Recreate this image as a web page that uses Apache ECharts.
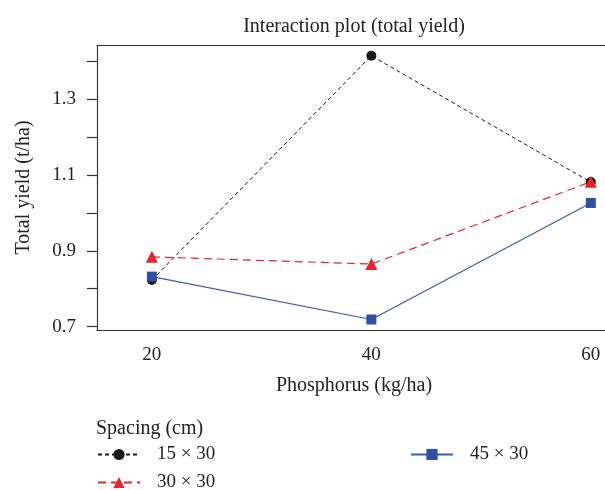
<!DOCTYPE html>
<html>
<head>
<meta charset="utf-8">
<script src="https://cdn.jsdelivr.net/npm/echarts@6/dist/echarts.min.js"></script>
<style>
  html, body { margin: 0; padding: 0; background: #fff; }
  #report { width: 605px; height: 490px; }
</style>
</head>
<body>
<div id="report"></div>
<script>
// data
var phosphorus = [20, 40, 60];
var seriesNames = ['15 × 30', '30 × 30', '45 × 30'];
var yield15 = [0.823, 1.414, 1.081];
var yield30 = [0.884, 0.865, 1.082];
var yield45 = [0.832, 0.719, 1.026];
var yTicks = [0.7, 0.8, 0.9, 1.0, 1.1, 1.2, 1.3, 1.4];
var yLabels = [0.7, 0.9, 1.1, 1.3];

var font = 'Liberation Serif';
var axisColor = '#333';
var textColor = '#222';

function pairs(vals) {
  return phosphorus.map(function (p, i) { return [p, vals[i]]; });
}

function legendAt(left, top, name) {
  return {
    left: left, top: top, padding: 0,
    itemWidth: 42, itemHeight: 14,
    data: [name],
    textStyle: { fontFamily: font, fontSize: 19, color: textColor, padding: [0, 0, 0, 12] }
  };
}

var myChart = echarts.init(document.getElementById('report'));

option = {
  animation: false,
  textStyle: { fontFamily: font },
  grid: { left: 97, top: 45, right: 0, bottom: 160 },
  graphic: [
    {
      type: 'text', x: 354, y: 17,
      style: { text: 'Interaction plot (total yield)', fontFamily: font, fontSize: 20, fill: textColor, align: 'center' }
    },
    {
      type: 'text', x: 354, y: 376,
      style: { text: 'Phosphorus (kg/ha)', fontFamily: font, fontSize: 20, fill: textColor, align: 'center' }
    },
    {
      type: 'text', x: 96, y: 419,
      style: { text: 'Spacing (cm)', fontFamily: font, fontSize: 20, fill: textColor }
    }
  ],
  legend: [
    legendAt(97, 445, seriesNames[0]),
    legendAt(97, 473, seriesNames[1]),
    legendAt(410, 445, seriesNames[2])
  ],
  xAxis: [
    {
      type: 'value',
      min: 15,
      max: 61.29,
      splitLine: { show: false },
      axisLine: { lineStyle: { color: axisColor, width: 1.2 } },
      axisTick: { show: false },
      axisLabel: {
        customValues: phosphorus,
        margin: 16,
        fontFamily: font, fontSize: 19, color: textColor
      }
    },
    {
      // top frame line only
      type: 'value',
      position: 'top',
      min: 15,
      max: 61.29,
      splitLine: { show: false },
      axisLine: { show: true, lineStyle: { color: axisColor, width: 1.2 } },
      axisTick: { show: false },
      axisLabel: { show: false }
    }
  ],
  yAxis: {
    type: 'value',
    min: 0.6913,
    max: 1.4422,
    name: 'Total yield (t/ha)',
    nameLocation: 'middle',
    nameGap: 63,
    nameTextStyle: { fontFamily: font, fontSize: 20, color: textColor },
    splitLine: { show: false },
    axisLine: { show: true, lineStyle: { color: axisColor, width: 1.2 } },
    axisTick: {
      show: true, length: 10, customValues: yTicks,
      lineStyle: { color: axisColor, width: 1.2 }
    },
    axisLabel: {
      customValues: yLabels,
      margin: 21,
      fontFamily: font, fontSize: 19, color: textColor,
      formatter: function (v) { return v.toFixed(1); }
    }
  },
  series: [
    {
      name: seriesNames[0],
      type: 'line',
      data: pairs(yield15),
      symbol: 'circle',
      symbolSize: 10,
      color: '#1a1a1a',
      lineStyle: { color: '#1a1a1a', width: 1, type: [4, 3] }
    },
    {
      name: seriesNames[1],
      type: 'line',
      data: pairs(yield30),
      symbol: 'triangle',
      symbolSize: 12,
      color: '#e8232c',
      lineStyle: { color: '#e8232c', width: 1.2, type: [8, 5] }
    },
    {
      name: seriesNames[2],
      type: 'line',
      data: pairs(yield45),
      symbol: 'rect',
      symbolSize: 10,
      color: '#2f4fa5',
      lineStyle: { color: '#3a5ab0', width: 1.2 }
    }
  ]
};

myChart.setOption(option);
</script>
</body>
</html>
